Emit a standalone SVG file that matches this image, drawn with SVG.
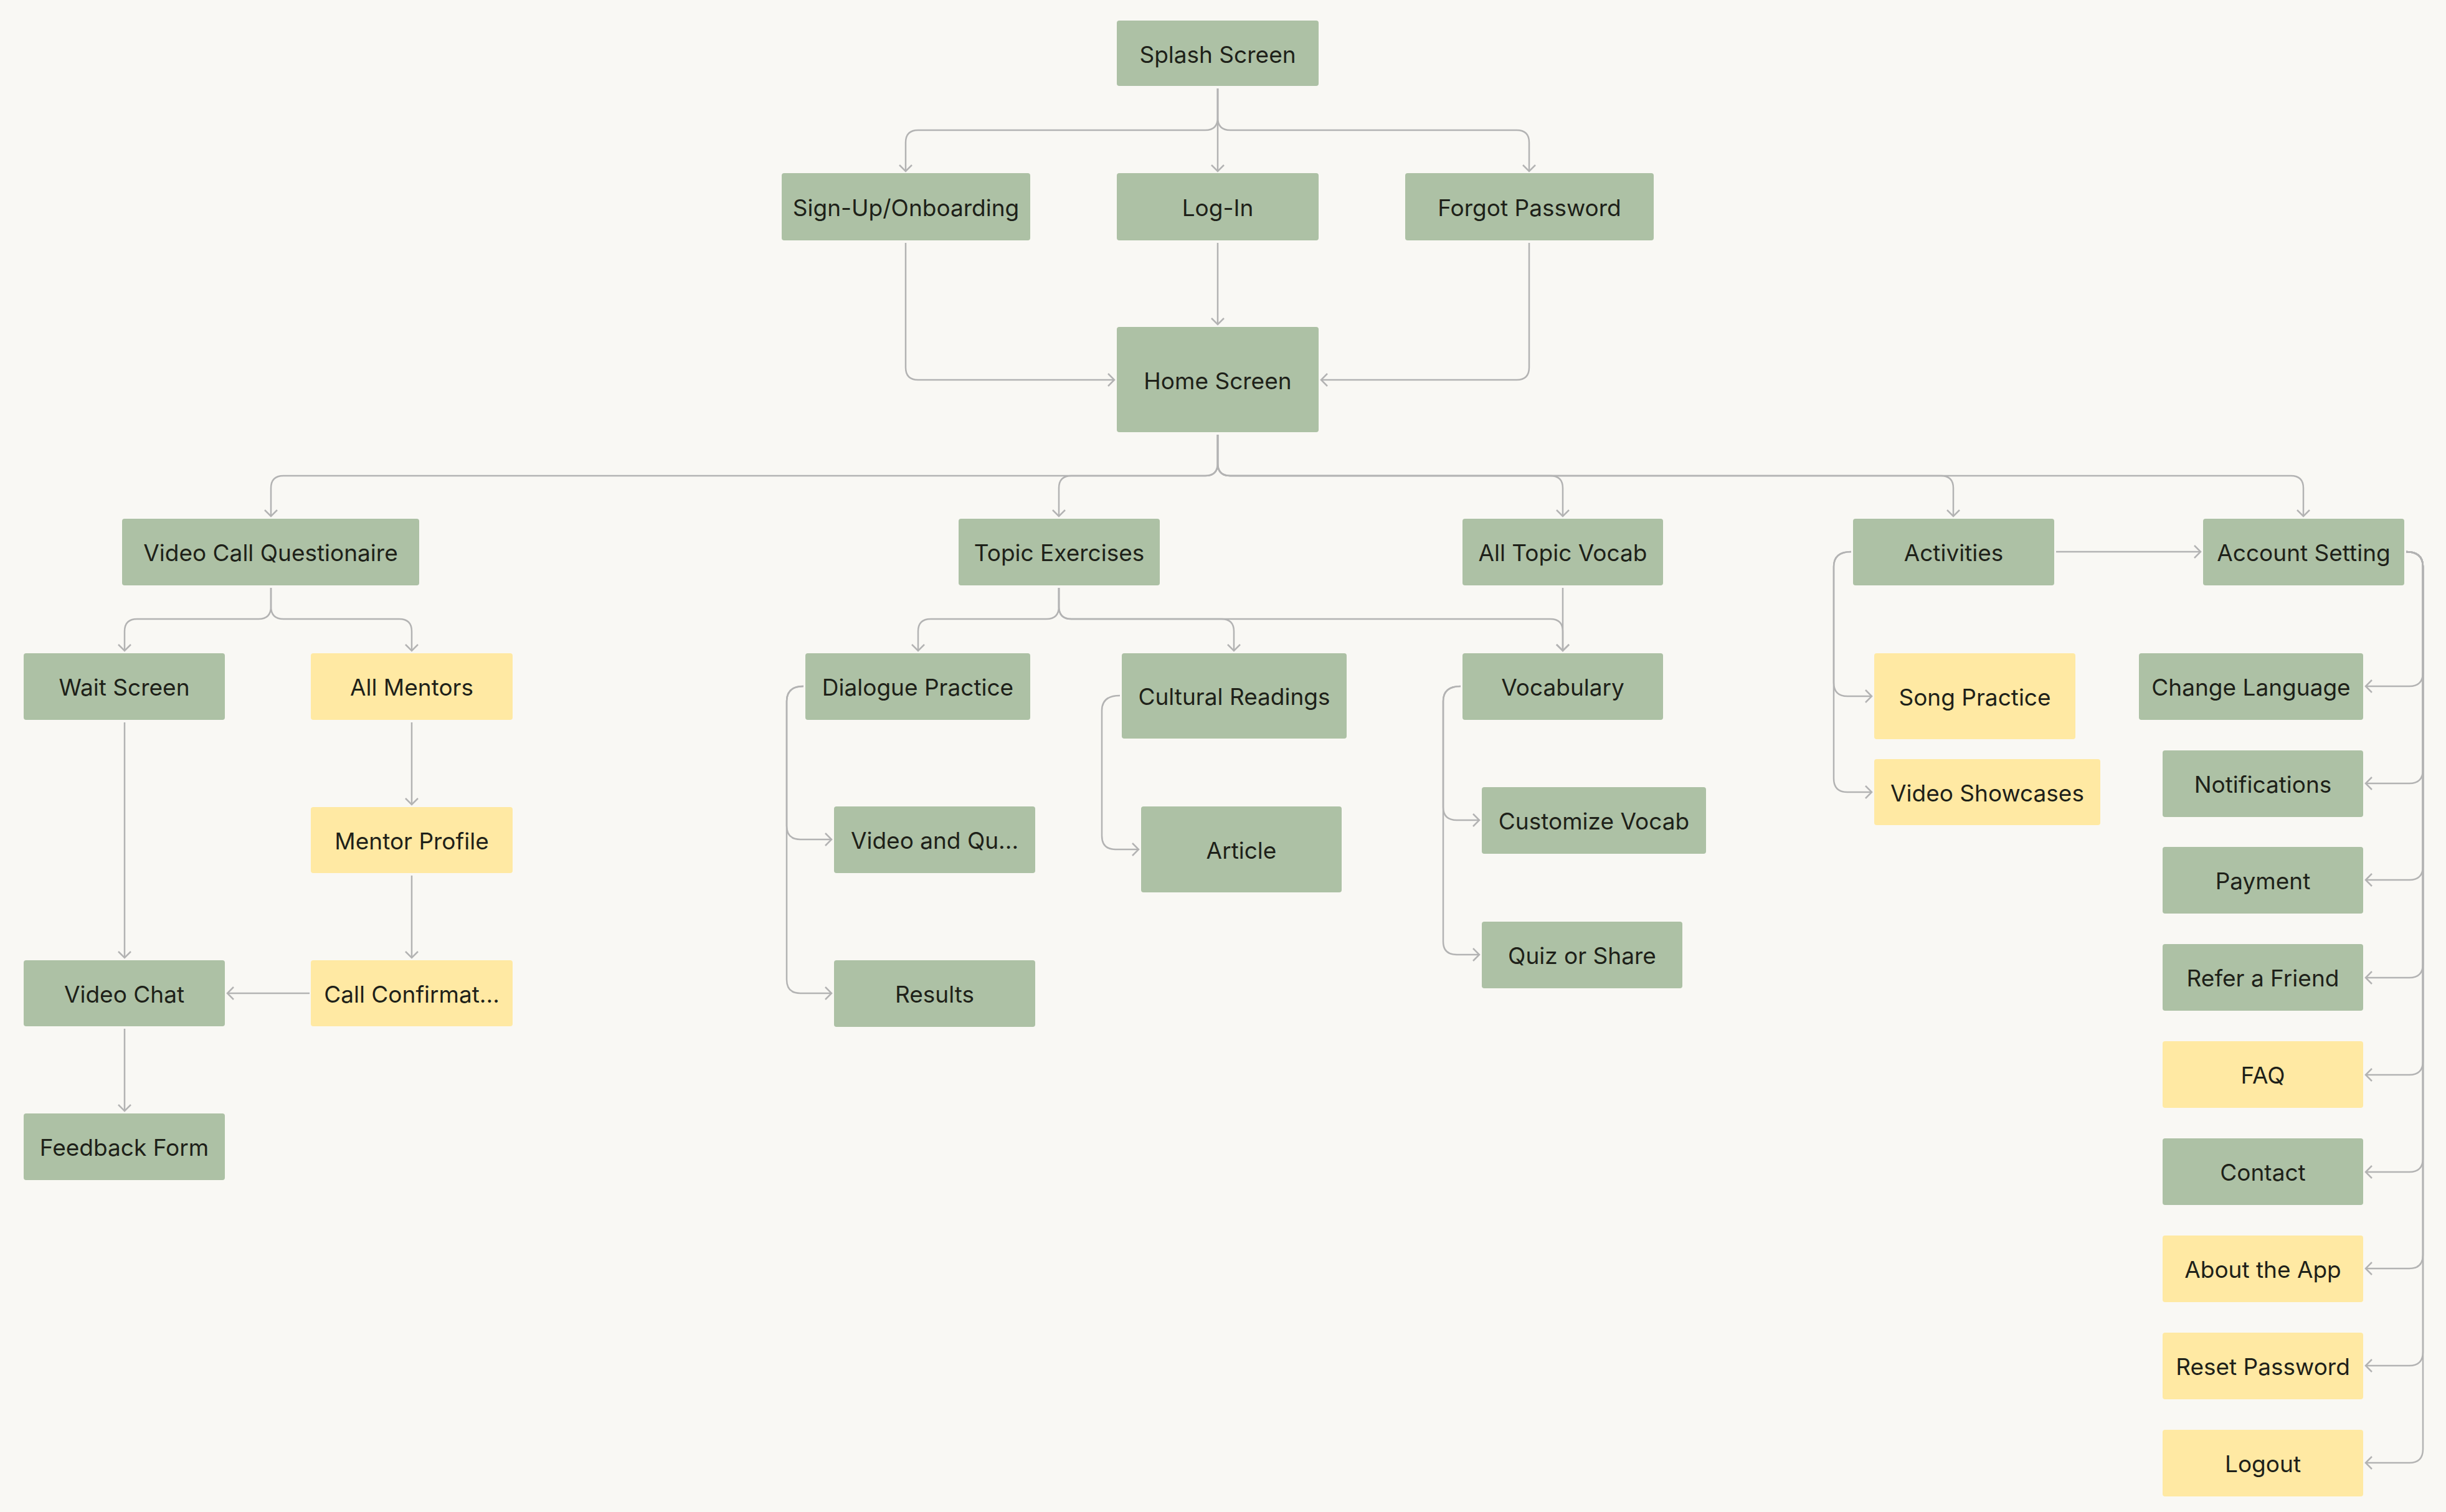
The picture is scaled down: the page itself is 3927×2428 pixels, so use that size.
<svg xmlns="http://www.w3.org/2000/svg" width="3927" height="2428" viewBox="0 0 3927 2428">
<style>
.bg{fill:#f9f8f4}
.g{fill:#adc1a5}
.y{fill:#ffe9a3}
text{font-family:Inter,"Liberation Sans",sans-serif;font-size:37px;fill:#1e2119;text-anchor:middle}
.c path{fill:none;stroke:#b3b3b3;stroke-width:2.5;marker-end:url(#a)}
</style>
<defs>
<marker id="a" markerUnits="userSpaceOnUse" markerWidth="30" markerHeight="30" viewBox="-15 -15 30 30" refX="0" refY="0" orient="auto">
<path d="M-10,-10 L0,0 L-10,10" fill="none" stroke="#b3b3b3" stroke-width="2.5"/>
</marker>
</defs>
<rect class="bg" width="3927" height="2428"/>
<g class="c" id="connectors">
<path d="M1955,142 V275"/>
<path d="M1955,142 V189 Q1955,209 1935,209 H1474 Q1454,209 1454,229 V275"/>
<path d="M1955,142 V189 Q1955,209 1975,209 H2435 Q2455,209 2455,229 V275"/>
<path d="M1454,390 V590 Q1454,610 1474,610 H1789"/>
<path d="M1955,390 V521"/>
<path d="M2455,390 V590 Q2455,610 2435,610 H2121"/>
<path d="M1955,698 V744 Q1955,764 1935,764 H455 Q435,764 435,784 V829"/>
<path d="M1955,698 V744 Q1955,764 1935,764 H1720 Q1700,764 1700,784 V829"/>
<path d="M1955,698 V744 Q1955,764 1975,764 H2489 Q2509,764 2509,784 V829"/>
<path d="M1955,698 V744 Q1955,764 1975,764 H3116 Q3136,764 3136,784 V829"/>
<path d="M1955,698 V744 Q1955,764 1975,764 H3678 Q3698,764 3698,784 V829"/>
<path d="M435,944 V974 Q435,994 415,994 H220 Q200,994 200,1014 V1045"/>
<path d="M435,944 V974 Q435,994 455,994 H641 Q661,994 661,1014 V1045"/>
<path d="M200,1160 V1538"/>
<path d="M661,1160 V1292"/>
<path d="M661,1406 V1538"/>
<path d="M497,1595 H365"/>
<path d="M200,1652 V1784"/>
<path d="M1700,944 V974 Q1700,994 1680,994 H1494 Q1474,994 1474,1014 V1045"/>
<path d="M1700,944 V974 Q1700,994 1720,994 H1961 Q1981,994 1981,1014 V1045"/>
<path d="M1700,944 V974 Q1700,994 1720,994 H2489 Q2509,994 2509,1014 V1045"/>
<path d="M2509,944 V1045"/>
<path d="M1290,1102 Q1263,1102 1263,1126 V1326 Q1263,1348 1285,1348 H1335"/>
<path d="M1290,1102 Q1263,1102 1263,1126 V1573 Q1263,1595 1285,1595 H1335"/>
<path d="M1798,1117 Q1769,1117 1769,1141 V1342 Q1769,1364 1791,1364 H1828"/>
<path d="M2345,1102 Q2317,1102 2317,1126 V1296 Q2317,1317 2339,1317 H2375"/>
<path d="M2345,1102 Q2317,1102 2317,1126 V1512 Q2317,1533 2339,1533 H2375"/>
<path d="M2972,886 Q2944,886 2944,910 V1096 Q2944,1118 2966,1118 H3005"/>
<path d="M2972,886 Q2944,886 2944,910 V1250 Q2944,1272 2966,1272 H3005"/>
<path d="M3301,886 H3533"/>
<path d="M3863,886 Q3890,886 3890,910 V1080 Q3890,1102 3868,1102 H3798"/>
<path d="M3863,886 Q3890,886 3890,910 V1236 Q3890,1258 3868,1258 H3798"/>
<path d="M3863,886 Q3890,886 3890,910 V1391 Q3890,1413 3868,1413 H3798"/>
<path d="M3863,886 Q3890,886 3890,910 V1548 Q3890,1570 3868,1570 H3798"/>
<path d="M3863,886 Q3890,886 3890,910 V1704 Q3890,1726 3868,1726 H3798"/>
<path d="M3863,886 Q3890,886 3890,910 V1860 Q3890,1882 3868,1882 H3798"/>
<path d="M3863,886 Q3890,886 3890,910 V2015 Q3890,2037 3868,2037 H3798"/>
<path d="M3863,886 Q3890,886 3890,910 V2171 Q3890,2193 3868,2193 H3798"/>
<path d="M3863,886 Q3890,886 3890,910 V2327 Q3890,2349 3868,2349 H3798"/>
</g>
<g id="splash"><rect class="g" x="1793" y="33" width="324" height="105" rx="4"/><text x="1955" y="100.5">Splash Screen</text></g>
<g id="signup"><rect class="g" x="1255" y="278" width="399" height="108" rx="4"/><text x="1454.5" y="346.5">Sign-Up/Onboarding</text></g>
<g id="login"><rect class="g" x="1793" y="278" width="324" height="108" rx="4"/><text x="1955" y="346.5">Log-In</text></g>
<g id="forgot"><rect class="g" x="2256" y="278" width="399" height="108" rx="4"/><text x="2455.5" y="346.5">Forgot Password</text></g>
<g id="home"><rect class="g" x="1793" y="525" width="324" height="169" rx="4"/><text x="1955" y="624.5">Home Screen</text></g>
<g id="vcq"><rect class="g" x="196" y="833" width="477" height="107" rx="4"/><text x="434.5" y="900.5">Video Call Questionaire</text></g>
<g id="topic"><rect class="g" x="1539" y="833" width="323" height="107" rx="4"/><text x="1700.5" y="900.5">Topic Exercises</text></g>
<g id="atv"><rect class="g" x="2348" y="833" width="322" height="107" rx="4"/><text x="2509" y="900.5">All Topic Vocab</text></g>
<g id="activities"><rect class="g" x="2975" y="833" width="323" height="107" rx="4"/><text x="3136.5" y="900.5">Activities</text></g>
<g id="account"><rect class="g" x="3537" y="833" width="323" height="107" rx="4"/><text x="3698.5" y="900.5">Account Setting</text></g>
<g id="wait"><rect class="g" x="38" y="1049" width="323" height="107" rx="4"/><text x="199.5" y="1116.5">Wait Screen</text></g>
<g id="mentors"><rect class="y" x="499" y="1049" width="324" height="107" rx="4"/><text x="661" y="1116.5">All Mentors</text></g>
<g id="profile"><rect class="y" x="499" y="1296" width="324" height="106" rx="4"/><text x="661" y="1363.5">Mentor Profile</text></g>
<g id="vchat"><rect class="g" x="38" y="1542" width="323" height="106" rx="4"/><text x="199.5" y="1609.5">Video Chat</text></g>
<g id="callconf"><rect class="y" x="499" y="1542" width="324" height="106" rx="4"/><text x="661" y="1609.5">Call Confirmat...</text></g>
<g id="feedback"><rect class="g" x="38" y="1788" width="323" height="107" rx="4"/><text x="199.5" y="1855.5">Feedback Form</text></g>
<g id="dialogue"><rect class="g" x="1293" y="1049" width="361" height="107" rx="4"/><text x="1473.5" y="1116.5">Dialogue Practice</text></g>
<g id="cultural"><rect class="g" x="1801" y="1049" width="361" height="137" rx="4"/><text x="1981.5" y="1131.5">Cultural Readings</text></g>
<g id="vocab"><rect class="g" x="2348" y="1049" width="322" height="107" rx="4"/><text x="2509" y="1116.5">Vocabulary</text></g>
<g id="videoqu"><rect class="g" x="1339" y="1295" width="323" height="107" rx="4"/><text x="1500.5" y="1362.5">Video and Qu...</text></g>
<g id="article"><rect class="g" x="1832" y="1295" width="322" height="138" rx="4"/><text x="1993" y="1378.5">Article</text></g>
<g id="customize"><rect class="g" x="2379" y="1264" width="360" height="107" rx="4"/><text x="2559" y="1331.5">Customize Vocab</text></g>
<g id="results"><rect class="g" x="1339" y="1542" width="323" height="107" rx="4"/><text x="1500.5" y="1609.5">Results</text></g>
<g id="quiz"><rect class="g" x="2379" y="1480" width="322" height="107" rx="4"/><text x="2540" y="1547.5">Quiz or Share</text></g>
<g id="song"><rect class="y" x="3009" y="1049" width="323" height="138" rx="4"/><text x="3170.5" y="1132.5">Song Practice</text></g>
<g id="showcase"><rect class="y" x="3009" y="1219" width="363" height="106" rx="4"/><text x="3190.5" y="1286.5">Video Showcases</text></g>
<g id="changelang"><rect class="g" x="3434" y="1049" width="360" height="107" rx="4"/><text x="3614" y="1117">Change Language</text></g>
<g id="notif"><rect class="g" x="3472" y="1205" width="322" height="107" rx="4"/><text x="3633" y="1272.5">Notifications</text></g>
<g id="payment"><rect class="g" x="3472" y="1360" width="322" height="107" rx="4"/><text x="3633" y="1427.5">Payment</text></g>
<g id="refer"><rect class="g" x="3472" y="1516" width="322" height="107" rx="4"/><text x="3633" y="1583.5">Refer a Friend</text></g>
<g id="faq"><rect class="y" x="3472" y="1672" width="322" height="107" rx="4"/><text x="3633" y="1739.5">FAQ</text></g>
<g id="contact"><rect class="g" x="3472" y="1828" width="322" height="107" rx="4"/><text x="3633" y="1895.5">Contact</text></g>
<g id="about"><rect class="y" x="3472" y="1984" width="322" height="107" rx="4"/><text x="3633" y="2051.5">About the App</text></g>
<g id="reset"><rect class="y" x="3472" y="2140" width="322" height="107" rx="4"/><text x="3633" y="2207.5">Reset Password</text></g>
<g id="logout"><rect class="y" x="3472" y="2296" width="322" height="107" rx="4"/><text x="3633" y="2363.5">Logout</text></g>
</svg>
